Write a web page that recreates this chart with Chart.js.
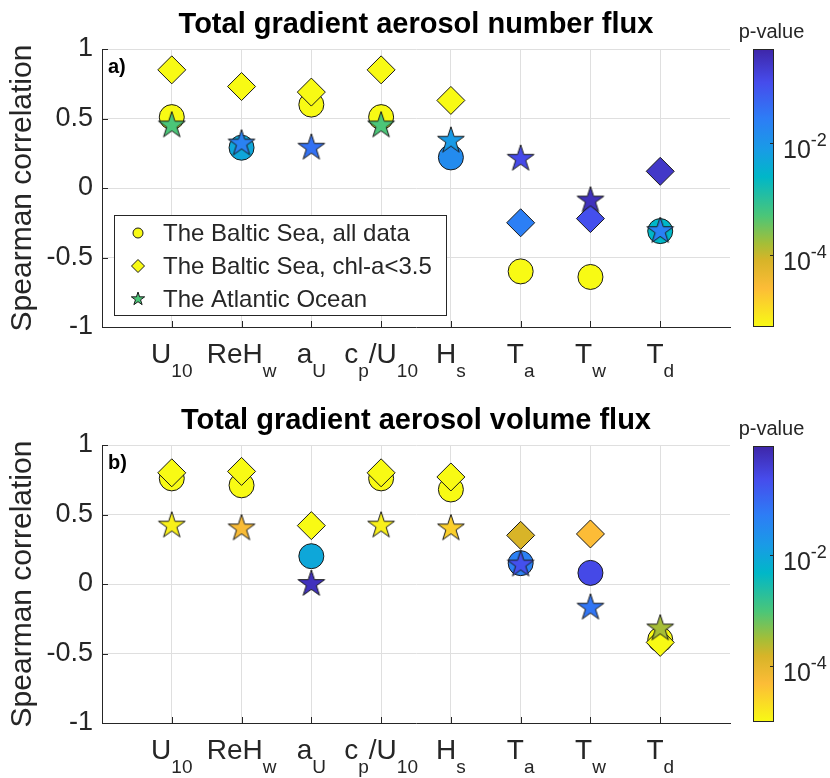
<!DOCTYPE html>
<html lang="en">
<head>
<meta charset="UTF-8">
<title>Total gradient aerosol flux - Spearman correlation</title>
<script src="https://cdn.jsdelivr.net/npm/chart.js"></script>
<style>
  body { margin: 0; background: #fff; }
  #page { position: relative; width: 830px; height: 778px; }
  .box { position: absolute; }
</style>
</head>
<body>
<div id="page">
  <div class="box" style="left:0;top:0;width:745px;height:389px"><canvas id="numberChart"></canvas></div>
  <div class="box" style="left:725px;top:0;width:105px;height:389px"><canvas id="numberBar"></canvas></div>
  <div class="box" style="left:0;top:389px;width:745px;height:389px"><canvas id="volumeChart"></canvas></div>
  <div class="box" style="left:725px;top:389px;width:105px;height:389px"><canvas id="volumeBar"></canvas></div>
</div>
<script>
// ---- data ----
const variables = ['U_{10}', 'ReH_{w}', 'a_{U}', 'c_{p}/U_{10}', 'H_{s}', 'T_{a}', 'T_{w}', 'T_{d}'];
const seriesNames = ['The Baltic Sea, all data', 'The Baltic Sea, chl-a<3.5', 'The Atlantic Ocean'];
const yTicks = [-1, -0.5, 0, 0.5, 1];
const yTickLabels = ['-1', '-0.5', '0', '0.5', '1'];
const pTicks = [1e-4, 1e-2];
const pTickLabels = ['10^{-4}', '10^{-2}'];

// a) number flux: correlation and p-value
const numAllR = [0.51, 0.29, 0.60, 0.51, 0.22, -0.60, -0.64, -0.31];
const numAllP = [1e-6, 5e-3, 1e-6, 1e-6, 0.015, 1e-6, 1e-6, 2.5e-3];
const numChlR = [0.85, 0.73, 0.69, 0.85, 0.63, -0.25, -0.22, 0.12];
const numChlP = [1e-6, 1e-6, 1e-6, 1e-6, 1e-6, 0.025, 0.11, 0.25];
const numAtlR = [0.45, 0.32, 0.29, 0.45, 0.34, 0.21, -0.09, -0.31];
const numAtlP = [5e-4, 0.022, 0.04, 5e-4, 8e-3, 0.13, 0.32, 0.023];
const numPRange = [5.1e-6, 0.48];

// b) volume flux
const volAllR = [0.76, 0.71, 0.20, 0.76, 0.68, 0.15, 0.08, -0.40];
const volAllP = [1e-6, 1e-6, 9e-3, 1e-6, 1e-6, 0.045, 0.25, 1e-6];
const volChlR = [0.80, 0.81, 0.42, 0.80, 0.77, 0.35, 0.36, -0.42];
const volChlP = [1e-6, 1e-6, 1e-6, 1e-6, 1e-6, 1.5e-4, 5e-5, 1e-6];
const volAtlR = [0.42, 0.40, 0.00, 0.42, 0.40, 0.14, -0.17, -0.32];
const volAtlP = [1.3e-5, 5.5e-5, 0.6, 1.3e-5, 3e-5, 0.2, 0.065, 3e-4];
const volPRange = [1.0e-5, 0.89];

// ---- style ----
const FONT = "'Liberation Sans', Arial, Helvetica, sans-serif";
const AXIS = '#262626';
const GRID = '#dfdfdf';
const EDGE = '#1a1a1a';
Chart.defaults.font.family = FONT;
Chart.defaults.color = AXIS;

// parula, flipped: 0 = top of colorbar (large p), 1 = bottom (small p)
const parula = [
  [0.00, [62, 38, 168]],
  [0.12, [70, 76, 236]],
  [0.25, [45, 125, 246]],
  [0.36, [25, 155, 230]],
  [0.46, [0, 183, 200]],
  [0.60, [75, 198, 120]],
  [0.70, [165, 190, 55]],
  [0.76, [215, 180, 40]],
  [0.86, [252, 188, 55]],
  [1.00, [248, 250, 20]]
];

function rgb(c) { return 'rgb(' + c.map(Math.round).join(',') + ')'; }

function pColor(p, range) {
  const lo = Math.log10(range[0]), hi = Math.log10(range[1]);
  let f = (hi - Math.log10(p)) / (hi - lo);
  f = Math.min(1, Math.max(0, f));
  for (let i = 1; i < parula.length; i++) {
    if (f <= parula[i][0]) {
      const [f0, c0] = parula[i - 1], [f1, c1] = parula[i];
      const t = (f - f0) / (f1 - f0);
      return rgb(c0.map((v, k) => v + (c1[k] - v) * t));
    }
  }
  return rgb(parula[parula.length - 1][1]);
}

// pentagram markers (chart.js has no filled star)
const starCache = {};
function starImage(color, R) {
  const key = color + '|' + R;
  if (starCache[key]) return starCache[key];
  const c = document.createElement('canvas');
  const s = Math.ceil(2 * R + 4);
  c.width = s; c.height = s;
  const g = c.getContext('2d');
  starPath(g, s / 2, s / 2, R);
  g.fillStyle = color; g.fill();
  g.strokeStyle = EDGE; g.lineWidth = 1; g.stroke();
  starCache[key] = c;
  return c;
}
function starPath(g, cx, cy, R) {
  g.beginPath();
  for (let i = 0; i < 10; i++) {
    const r = i % 2 ? R * 0.382 : R;
    const a = -Math.PI / 2 + i * Math.PI / 5;
    g.lineTo(cx + r * Math.cos(a), cy + r * Math.sin(a));
  }
  g.closePath();
}

// simple TeX-like text: x_{sub}, x^{sup}
function parseTex(s) {
  const parts = [];
  const re = /([_^])\{([^}]*)\}|([^_^]+)/g;
  let m;
  while ((m = re.exec(s))) {
    if (m[3]) parts.push({ t: m[3], k: 0 });
    else parts.push({ t: m[2], k: m[1] === '_' ? 1 : -1 });
  }
  return parts;
}
function drawTex(ctx, s, x, y, align, big, small, shift) {
  const parts = parseTex(s);
  let w = 0;
  parts.forEach(p => {
    ctx.font = (p.k ? small : big) + 'px ' + FONT;
    p.w = ctx.measureText(p.t).width;
    w += p.w;
  });
  let px = align === 'center' ? x - w / 2 : x;
  ctx.textAlign = 'left';
  ctx.textBaseline = 'alphabetic';
  parts.forEach(p => {
    ctx.font = (p.k ? small : big) + 'px ' + FONT;
    ctx.fillText(p.t, px, y + p.k * shift);
    px += p.w;
  });
}

function drawMarker(ctx, shape, x, y, r, color) {
  ctx.beginPath();
  if (shape === 'circle') ctx.arc(x, y, r, 0, Math.PI * 2);
  else if (shape === 'diamond') { ctx.moveTo(x - r, y); ctx.lineTo(x, y - r); ctx.lineTo(x + r, y); ctx.lineTo(x, y + r); ctx.closePath(); }
  else starPath(ctx, x, y, r);
  ctx.fillStyle = color; ctx.fill();
  ctx.strokeStyle = EDGE; ctx.lineWidth = 1; ctx.stroke();
}

// axes decorations: inward ticks, subscripted category labels, panel letter, legend
const decorPlugin = {
  id: 'decor',
  beforeDatasetsDraw(chart) {
    const { ctx, chartArea: a, scales: { x, y } } = chart;
    ctx.save();
    ctx.strokeStyle = AXIS; ctx.lineWidth = 1;
    ctx.beginPath();
    variables.forEach((v, i) => {
      const px = Math.round(x.getPixelForValue(i + 1)) + 0.5;
      ctx.moveTo(px, a.bottom); ctx.lineTo(px, a.bottom - 6);
    });
    yTicks.forEach(v => {
      const py = Math.round(y.getPixelForValue(v)) + 0.5;
      ctx.moveTo(a.left, py); ctx.lineTo(a.left + 6, py);
    });
    ctx.stroke();
    ctx.restore();
  },
  afterDraw(chart, args, opts) {
    const { ctx, chartArea: a, scales: { x } } = chart;
    ctx.save();
    ctx.fillStyle = AXIS;
    variables.forEach((v, i) => {
      drawTex(ctx, v, x.getPixelForValue(i + 1), a.bottom + 36, 'center', 28, 19, 14);
    });
    ctx.fillStyle = '#000';
    ctx.font = 'bold 20px ' + FONT;
    ctx.textAlign = 'left'; ctx.textBaseline = 'middle';
    ctx.fillText(opts.letter, a.left + 6, a.top + 18);
    if (opts.legend) {
      const bx = a.left + 12, by = a.top + 166, bw = 332, bh = 100;
      ctx.fillStyle = '#fff';
      ctx.fillRect(bx, by, bw, bh);
      ctx.strokeStyle = AXIS; ctx.lineWidth = 1;
      ctx.strokeRect(bx + 0.5, by + 0.5, bw, bh);
      const shapes = ['circle', 'diamond', 'star'];
      const sizes = [5, 6.5, 7];
      opts.legend.forEach((col, i) => {
        const ry = by + 18 + i * 33;
        drawMarker(ctx, shapes[i], bx + 24, ry, sizes[i], col);
        ctx.fillStyle = AXIS;
        ctx.font = '24px ' + FONT;
        ctx.textAlign = 'left'; ctx.textBaseline = 'middle';
        ctx.fillText(seriesNames[i], bx + 49, ry + 1);
      });
    }
    ctx.restore();
  }
};

function makePanel(id, cfg) {
  const pts = r => r.map((v, i) => ({ x: i + 1, y: v }));
  const cols = ps => ps.map(p => pColor(p, cfg.range));
  return new Chart(document.getElementById(id), {
    type: 'scatter',
    data: {
      datasets: [
        { label: seriesNames[0], data: pts(cfg.allR), pointStyle: 'circle', pointRadius: 12.5,
          pointBackgroundColor: cols(cfg.allP), pointBorderColor: EDGE, pointBorderWidth: 1, order: 3 },
        { label: seriesNames[1], data: pts(cfg.chlR), pointStyle: 'rectRot', pointRadius: 14,
          pointBackgroundColor: cols(cfg.chlP), pointBorderColor: EDGE, pointBorderWidth: 1, order: 2 },
        { label: seriesNames[2], data: pts(cfg.atlR), pointStyle: cols(cfg.atlP).map(c => starImage(c, 14)),
          pointRadius: 14, order: 1 }
      ]
    },
    options: {
      responsive: true,
      maintainAspectRatio: false,
      animation: false,
      events: [],
      layout: { padding: { left: 0, right: 3, top: 0, bottom: 0 } },
      plugins: {
        legend: { display: false },
        tooltip: { enabled: false },
        title: {
          display: true, text: cfg.title, fullSize: false, color: '#000',
          font: { size: 29, weight: 'bold' },
          padding: { top: cfg.titleTop, bottom: cfg.titleBottom }
        },
        decor: { letter: cfg.letter, legend: cfg.legend }
      },
      scales: {
        x: {
          type: 'linear', min: 0, max: 9,
          ticks: { stepSize: 1, display: false },
          grid: {
            drawTicks: false,
            color: c => (c.tick && c.tick.value >= 1 && c.tick.value <= variables.length) ? GRID : 'rgba(0,0,0,0)'
          },
          border: { color: AXIS },
          afterFit: s => { s.height = cfg.axisHeight; }
        },
        y: {
          min: -1, max: 1,
          afterBuildTicks: s => { s.ticks = yTicks.map(v => ({ value: v })); },
          ticks: { font: { size: 27 }, color: AXIS, padding: 9,
                   callback: v => yTickLabels[yTicks.indexOf(v)] },
          grid: { drawTicks: false, color: c => (c.tick && c.tick.value > -1) ? GRID : 'rgba(0,0,0,0)' },
          border: { color: AXIS },
          title: { display: true, text: 'Spearman correlation', color: AXIS,
                   font: { size: 30 }, padding: { top: 5, bottom: 0 } },
          afterFit: s => { s.width = 102; }
        }
      }
    },
    plugins: [decorPlugin]
  });
}

// colour bar with log p-value axis
const colorBarPlugin = {
  id: 'colorbar',
  afterDraw(chart) {
    const { ctx, chartArea: a, scales: { y } } = chart;
    ctx.save();
    const g = ctx.createLinearGradient(0, a.top, 0, a.bottom);
    parula.forEach(([f, c]) => g.addColorStop(f, rgb(c)));
    ctx.fillStyle = g;
    ctx.fillRect(a.left, a.top, a.right - a.left, a.bottom - a.top);
    ctx.strokeStyle = AXIS; ctx.lineWidth = 1;
    ctx.strokeRect(a.left + 0.5, a.top + 0.5, a.right - a.left - 1, a.bottom - a.top - 1);
    ctx.fillStyle = AXIS;
    pTicks.forEach((v, i) => {
      const py = Math.round(y.getPixelForValue(v)) + 0.5;
      ctx.beginPath(); ctx.moveTo(a.right, py); ctx.lineTo(a.right - 4, py); ctx.stroke();
      drawTex(ctx, pTickLabels[i], a.right + 9, py + 14, 'left', 25, 18, 12);
    });
    ctx.font = '20px ' + FONT;
    ctx.textAlign = 'center'; ctx.textBaseline = 'middle';
    ctx.fillText('p-value', (a.left + a.right) / 2 + 8, a.top - 17);
    ctx.restore();
  }
};

function makeColorBar(id, range, padTop, padBottom) {
  return new Chart(document.getElementById(id), {
    type: 'scatter',
    data: { datasets: [] },
    options: {
      responsive: true,
      maintainAspectRatio: false,
      animation: false,
      events: [],
      layout: { padding: { left: 28, right: 0, top: padTop, bottom: padBottom } },
      plugins: { legend: { display: false }, tooltip: { enabled: false } },
      scales: {
        x: { display: false },
        y: {
          type: 'logarithmic', position: 'right', min: range[0], max: range[1],
          grid: { display: false }, border: { display: false },
          ticks: { display: false },
          afterBuildTicks: s => { s.ticks = pTicks.map(v => ({ value: v })); },
          afterFit: s => { s.width = 56; }
        }
      }
    },
    plugins: [colorBarPlugin]
  });
}

makePanel('numberChart', {
  title: 'Total gradient aerosol number flux', letter: 'a)',
  allR: numAllR, allP: numAllP, chlR: numChlR, chlP: numChlP, atlR: numAtlR, atlP: numAtlP,
  range: numPRange, titleTop: 7.6, titleBottom: 6.6, axisHeight: 62,
  legend: [pColor(numAllP[0], numPRange), pColor(numChlP[0], numPRange), pColor(numAtlP[0], numPRange)]
});
makeColorBar('numberBar', numPRange, 49, 62);

makePanel('volumeChart', {
  title: 'Total gradient aerosol volume flux', letter: 'b)',
  allR: volAllR, allP: volAllP, chlR: volChlR, chlP: volChlP, atlR: volAtlR, atlP: volAtlP,
  range: volPRange, titleTop: 14.6, titleBottom: 6.6, axisHeight: 55,
  legend: null
});
makeColorBar('volumeBar', volPRange, 57, 56);
</script>
</body>
</html>
